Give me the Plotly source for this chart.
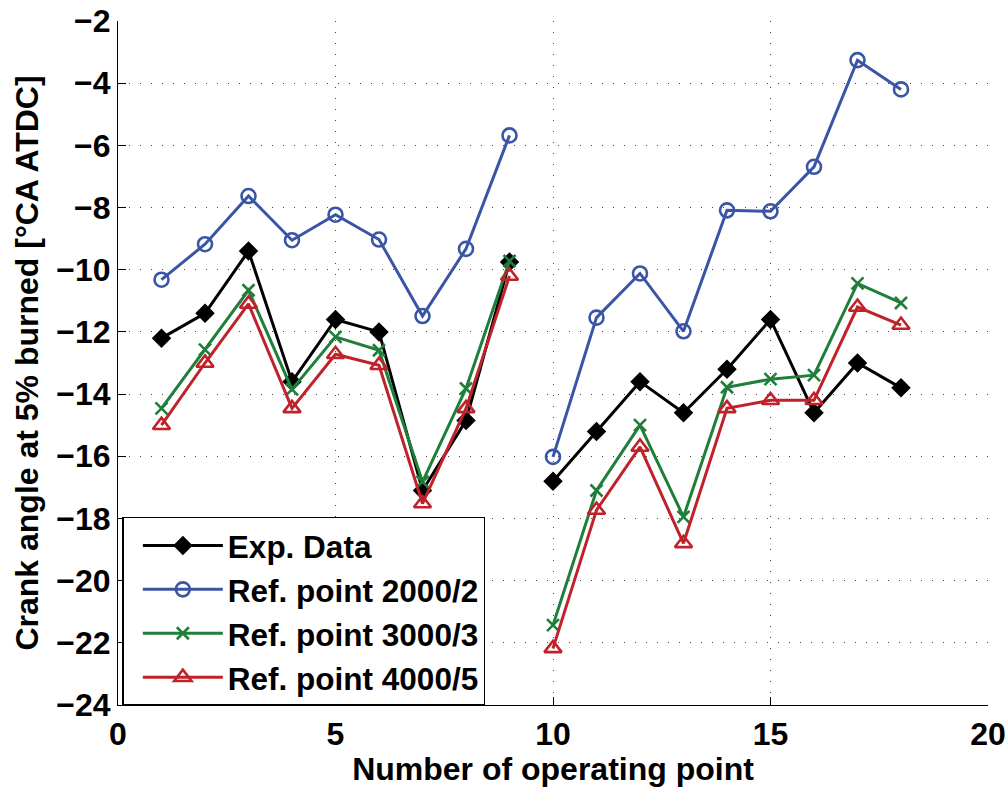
import plotly.graph_objects as go

# Operating points 1-9 and 10-18 form two separate sweeps
op_points = list(range(1, 19))

exp_data = [-12.2, -11.4, -9.4, -13.6, -11.6, -12.0, -17.1, -14.85, -9.75,
            -16.8, -15.2, -13.6, -14.6, -13.2, -11.6, -14.6, -13.0, -13.8]
ref_2000_2 = [-10.32, -9.18, -7.63, -9.05, -8.23, -9.03, -11.49, -9.33, -5.68,
              -16.02, -11.54, -10.12, -11.98, -8.09, -8.12, -6.69, -3.26, -4.2]
ref_3000_3 = [-14.46, -12.57, -10.66, -13.85, -12.16, -12.59, -16.82, -13.82, -9.72,
              -21.43, -17.1, -15.0, -17.95, -13.78, -13.52, -13.39, -10.44, -11.07]
ref_4000_5 = [-15.0, -13.0, -11.1, -14.46, -12.72, -13.07, -17.52, -14.46, -10.2,
              -22.18, -17.73, -15.7, -18.8, -14.46, -14.2, -14.2, -11.2, -11.78]

x_ticks = [0, 5, 10, 15, 20]
y_ticks = list(range(-24, -1, 2))


def with_gap(xs, ys, split=9):
    """Insert a break so the two sweeps are not joined by a line."""
    gx = list(xs[:split]) + [None] + list(xs[split:])
    gy = list(ys[:split]) + [None] + list(ys[split:])
    return gx, gy


FONT = "Liberation Sans, Arial, sans-serif"

series = [
    ("Exp. Data", exp_data, "#000000", "diamond", 15, 0),
    ("Ref. point 2000/2", ref_2000_2, "#3a55a5", "circle-open", 14, 2.6),
    ("Ref. point 3000/3", ref_3000_3, "#1f7f3a", "x-thin-open", 12, 2.6),
    ("Ref. point 4000/5", ref_4000_5, "#c0222a", "triangle-up-open", 15, 2.6),
]

fig = go.Figure()
for name, ys, color, symbol, size, mlw in series:
    gx, gy = with_gap(op_points, ys)
    fig.add_trace(go.Scatter(
        x=gx, y=gy, name=name, mode="lines+markers",
        connectgaps=False,
        line=dict(color=color, width=3),
        marker=dict(symbol=symbol, size=size, color=color,
                    line=dict(color=color, width=mlw)),
    ))

axis_common = dict(
    automargin=False,
    showline=True, linecolor="black", linewidth=1.2,
    ticks="inside", ticklen=8, tickwidth=1.2, tickcolor="black",
    showgrid=True, gridcolor="#444444", gridwidth=1.2, griddash="1px,10px",
    zeroline=False, mirror=False,
    tickfont=dict(family=FONT, size=32, color="black", weight="bold"),
)

fig.update_layout(
    width=1007, height=787,
    margin=dict(l=118, r=19, t=21, b=82),
    paper_bgcolor="white", plot_bgcolor="white",
    font=dict(family=FONT, color="black"),
    xaxis=dict(
        range=[0, 20], tickvals=x_ticks, **axis_common,
        title=dict(text="Number of operating point", standoff=2,
                   font=dict(family=FONT, size=32, color="black", weight="bold")),
    ),
    yaxis=dict(
        range=[-24, -2], tickvals=y_ticks, **axis_common,
        title=dict(text="Crank angle at 5% burned [°CA ATDC]", standoff=8,
                   font=dict(family=FONT, size=32, color="black", weight="bold")),
    ),
    legend=dict(
        x=0.005, y=0.275, xanchor="left", yanchor="top",
        bgcolor="white", bordercolor="black", borderwidth=1.5,
        font=dict(family=FONT, size=31.5, color="black", weight="bold"),
        itemwidth=80, tracegroupgap=0, indentation=14,
    ),
)

fig.write_html("out.html")
